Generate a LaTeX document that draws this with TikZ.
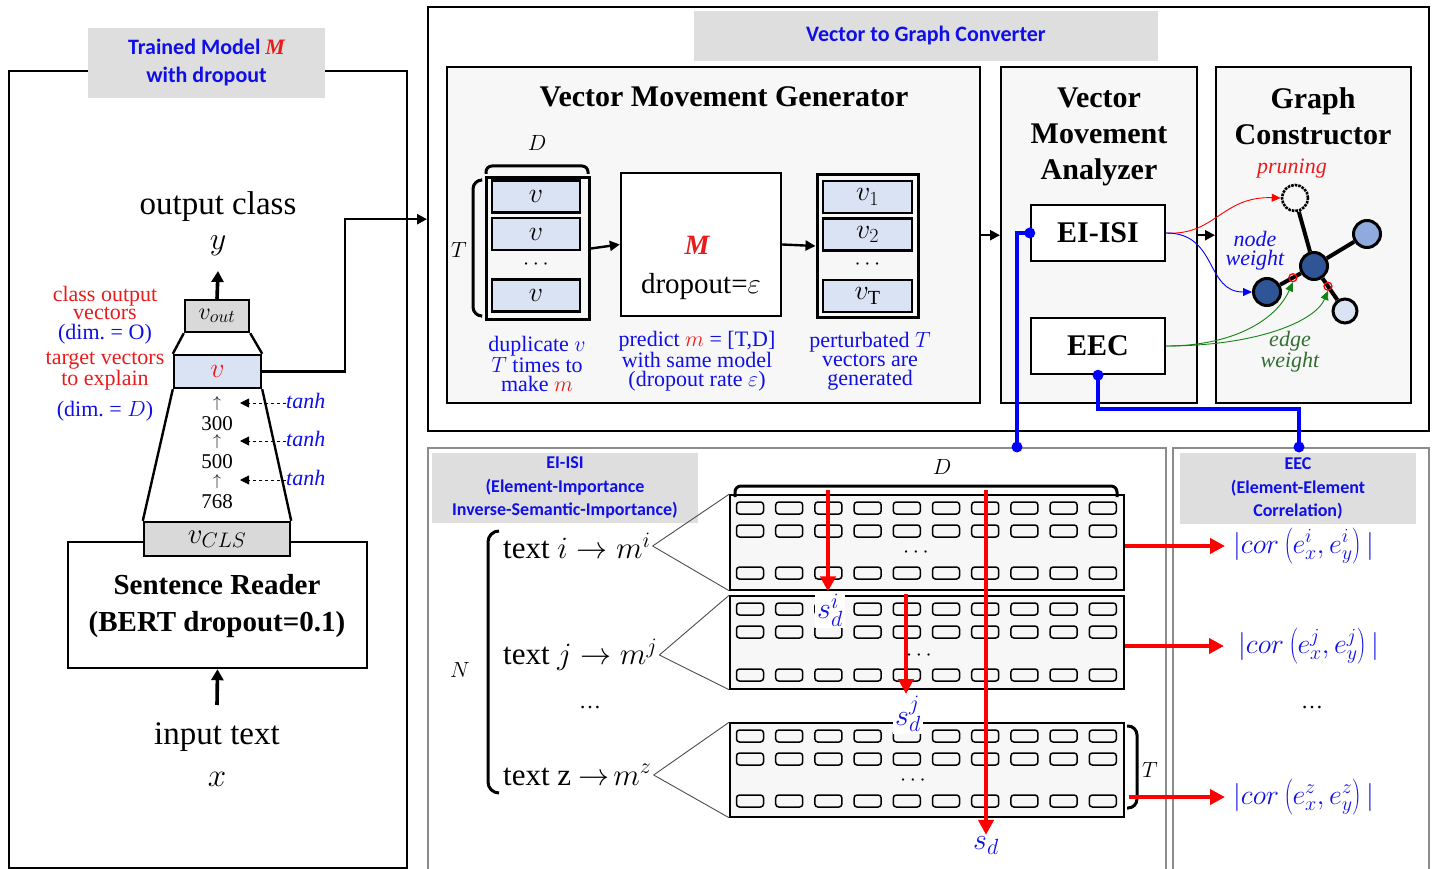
\RequirePackage{fix-cm}
\documentclass[tikz,border=0pt]{standalone}
\usepackage{fontspec}
\setmainfont{Liberation Serif}
\newfontfamily\calib{Carlito}
\usetikzlibrary{arrows.meta,calc}
\DeclareMathSizes{16}{16}{12}{9}
\DeclareMathSizes{22}{22}{16}{12}
\DeclareMathSizes{24}{24}{18}{13}
\DeclareMathSizes{28}{28}{20}{15}
\DeclareMathSizes{29}{29}{21}{15}
\DeclareMathSizes{30}{30}{22}{16}
\DeclareMathSizes{31}{31}{22}{16}
\DeclareMathSizes{32}{32}{23}{17}
\DeclareMathSizes{33}{33}{24}{17}
\definecolor{tblue}{RGB}{15,15,230}
\definecolor{tred}{RGB}{232,28,28}
\definecolor{lblue}{RGB}{218,227,243}
\definecolor{lgray}{RGB}{222,222,222}
\definecolor{pgray}{RGB}{247,247,247}
\definecolor{bgray}{RGB}{217,217,217}
\definecolor{frame}{RGB}{140,140,140}
\definecolor{ndark}{RGB}{47,85,151}
\definecolor{nmid}{RGB}{143,170,220}
\definecolor{nlight}{RGB}{218,227,243}
\definecolor{egreen}{RGB}{20,130,20}
\definecolor{tgreen}{RGB}{50,110,50}
\newcommand{\fsz}[2]{\fontsize{#1}{#2}\selectfont}
\begin{document}
\begin{tikzpicture}[x=1pt,y=-1pt,
 every node/.style={inner sep=0pt},
 box/.style={draw, line width=2.4pt},
 lbl/.style={fill=lgray, text=tblue, align=center},
 gframe/.style={draw=frame, line width=2.2pt},
 cell/.style={draw, line width=2.6pt, fill=lblue, minimum width=88, minimum height=32, font=\fsz{28}{28}},
 arr/.style={line width=2.4pt, -{Triangle[length=10pt,width=10pt]}},
 thickarr/.style={line width=3.6pt, -{Triangle[length=11pt,width=12pt]}},
 redarr/.style={draw=red, line width=4.5pt, -{Triangle[length=15pt,width=15pt]}},
 thinarr/.style={line width=0.9pt, -{Triangle[length=9pt,width=8pt]}},
 capt/.style={text=tblue, align=center, font=\fsz{22}{19}},
 gnode/.style={circle, draw, line width=3pt, minimum size=27},
 mat/.style={draw, fill=pgray, line width=1.6pt, minimum width=394},
 brk/.style={line width=3pt, rounded corners=7pt},
 ttl/.style={font=\bfseries\fsz{30}{36}, align=center},
 sdl/.style={fill=white, inner sep=2pt, text=tblue, font=\fsz{30}{30}},
 corl/.style={text=tblue, font=\fsz{28}{28}, anchor=west}
]
\useasboundingbox (0,0) rectangle (1438,869);

%% ================= LEFT PANEL =================
\node[box, minimum width=398, minimum height=797, anchor=north west] (left) at (8,70) {};
\node[lbl, minimum width=237, minimum height=70, font=\calib\bfseries\fsz{22}{28}] (tmlbl) at (206.5,63)
  {Trained Model {\rmfamily\bfseries\itshape\color{tred}M}\\with dropout};

\node[font=\fsz{33}{33}] (outc) at (218,207) {output class};
\node[font=\fsz{32}{32}] (y) at (218,246) {$y$};
\coordinate (ytip) at (218,271);

\node[box, fill=lblue, minimum width=87, minimum height=33, font=\fsz{28}{28}] (vbox) at (217.5,371.5) {\color{tred}$v$};
\node[box, fill=bgray, minimum width=64, minimum height=32, font=\fsz{24}{24}] (vout) at (217,316) {$v_{out}$};
\draw[thickarr] (vout.north) -- (ytip);

\node[box, minimum width=299, minimum height=126] (sr) at (217.5,605) {};
\node[box, fill=bgray, minimum width=146, minimum height=34, font=\fsz{29}{29}] (vcls) at (217,539) {$v_{CLS}$};
\draw[line width=2.4pt] (vout.south west) -- (vbox.north west);
\draw[line width=2.4pt] (vout.south east) -- (vbox.north east);
\draw[line width=2.4pt] (vbox.south west) -- (vcls.north west);
\draw[line width=2.4pt] (vbox.south east) -- (vcls.north east);
\node[ttl, font=\bfseries\fsz{29}{37}] (srt) at (217,606) {Sentence Reader\\(BERT dropout=0.1)};

\node[font=\fsz{33}{42}, align=center] (intext) at (217,755) {input text\\$x$};
\coordinate (inbase) at (217,705);
\draw[thickarr] (inbase) -- (sr.south);

\node[text=tred, align=center, font=\fsz{22}{18}] (lab1) at (105,303) {class output\\vectors};
\node[text=tblue, font=\fsz{22}{22}] (lab2) at (105,334) {(dim.\ = O)};
\node[text=tred, align=center, font=\fsz{22}{18}] (lab3) at (105,371) {target vectors\\to explain};
\node[text=tblue, font=\fsz{22}{22}] (lab4) at (105,411) {(dim.\ = $D$)};

\foreach \yy/\tt in {424/300, 462/500, 502/768}
  \node[font=\fsz{21}{21}] at (217,\yy) {\tt};
\foreach \yy in {403, 441, 481}
  \node[font=\fsz{16}{16}] at (217,\yy) {$\uparrow$};
\foreach \yy/\nm in {403/ta, 441/tb, 480/tc}{
  \node[text=tblue, font=\itshape\fsz{22}{22}, anchor=west] (\nm) at (286,\yy-2) {tanh};
  \coordinate (\nm h) at (240,\yy);
  \draw[dashed, line width=0.9pt, -{Triangle[length=9pt,width=9pt]}] (\nm.west |- \nm h) -- (\nm h);
}

%% ================= VECTOR TO GRAPH CONVERTER =================
\node[box, minimum width=1001, minimum height=424, anchor=north west] (v2g) at (427,6) {};
\node[lbl, minimum width=464, minimum height=50, font=\calib\bfseries\fsz{22}{22}] (v2gt) at (926,36) {Vector to Graph Converter};
\draw[line width=2.4pt, -{Triangle[length=10pt,width=10pt]}] (vbox.east) -- ++(82.5,0) |- (v2g.west);

% Vector Movement Generator
\node[box, fill=pgray, minimum width=533, minimum height=336, anchor=north west] (vmg) at (446,66) {};
\node[ttl] (vmgt) at (724,97) {Vector Movement Generator};

\node[font=\fsz{22}{22}] (dl) at (537,143) {$D$};
\draw[brk, rounded corners=6pt] (486,174) -- (486,166) -- (588,166) -- (588,174);
\node[box, line width=3pt, minimum width=103, minimum height=142, anchor=north west] (lstack) at (485,176) {};
\node[cell] (lv1) at (536,196.5) {$v$};
\node[cell] (lv2) at (536,234) {$v$};
\node[font=\fsz{22}{22}] (ld) at (536,265) {$\cdots$};
\node[cell] (lv3) at (536,295.5) {$v$};
\draw[brk, rounded corners=9pt] (481,180) -- (473,180) -- (473,316) -- (481,316);
\node[font=\fsz{22}{22}] (tl) at (459,250) {$T$};

\node[box, fill=white, minimum width=160, minimum height=143] (mbox) at (701,244.5) {};
\node[text=tred, font=\bfseries\itshape\fsz{28}{28}] (mM) at (697,245) {M};
\node[font=\fsz{29}{29}] (mdrop) at (701,287) {dropout=$\varepsilon$};

\node[box, line width=3pt, minimum width=101, minimum height=142] (rstack) at (867.5,246) {};
\node[cell, minimum width=89] (rv1) at (867.5,197) {$v_1$};
\node[cell, minimum width=89] (rv2) at (867.5,234.5) {$v_2$};
\node[font=\fsz{22}{22}] (rd) at (867.5,265) {$\cdots$};
\node[cell, minimum width=89] (rv3) at (867.5,296) {$v_{\mathrm{T}}$};

\draw[arr] (lstack.east) -- (mbox.west);
\draw[arr] (mbox.east) -- (rstack.west);

\node[capt] (c1) at (537,364) {duplicate $v$\\$T$ times to\\make {\color{tred}$m$}};
\node[capt] (c2) at (697,361) {predict {\color{tred}$m$} = [T,D]\\with same model\\(dropout rate $\varepsilon$)};
\node[capt] (c3) at (870,361) {perturbated $T$\\vectors are\\generated};

% Vector Movement Analyzer
\node[box, fill=pgray, minimum width=196, minimum height=336, anchor=north west] (vma) at (1000,66) {};
\node[ttl] (vmat) at (1099,137) {Vector\\Movement\\Analyzer};
\node[box, fill=white, minimum width=134, minimum height=56, font=\bfseries\fsz{30}{30}] (eiisi) at (1098,233) {EI-ISI};
\node[box, fill=white, minimum width=134, minimum height=56, font=\bfseries\fsz{30}{30}] (eec) at (1098,346) {EEC};
\draw[arr] (vmg.east) -- (vma.west);

% Graph Constructor
\node[box, fill=pgray, minimum width=195, minimum height=336, anchor=north west] (gc) at (1215,66) {};
\node[ttl] (gct) at (1313,116) {Graph\\Constructor};
\draw[arr] (vma.east) -- (gc.west);
\node[text=tred, font=\itshape\fsz{22}{22}] (prun) at (1292,169) {pruning};

\node[circle, draw, densely dotted, line width=2.6pt, minimum size=26] (gp) at (1295,198) {};
\node[gnode, fill=ndark] (g0) at (1314,266) {};
\node[gnode, fill=ndark] (gl) at (1267,292) {};
\node[gnode, fill=nmid] (gur) at (1367,234) {};
\node[gnode, fill=nlight, minimum size=24] (glr) at (1345,311) {};
\draw[line width=4pt] (gp) -- (g0);
\draw[line width=4pt] (g0) -- (gl);
\draw[line width=4pt] (g0) -- (gur);
\draw[line width=4pt] (g0) -- (glr);
\node[circle, draw=red, line width=1.3pt, minimum size=8] (ew1) at ($(gl)!0.55!(g0)$) {};
\node[circle, draw=red, line width=1.3pt, minimum size=8] (ew2) at ($(g0)!0.45!(glr)$) {};

\draw[thinarr, red] (eiisi.east) .. controls (1215,236) and (1222,196) .. (gp.west);
\draw[thinarr, blue] (eiisi.east) .. controls (1218,233) and (1205,292) .. (gl.west);
\draw[thinarr, egreen] (eec.east) .. controls (1230,346) and (1275,322) .. (ew1.south);
\draw[thinarr, egreen] (eec.east) .. controls (1255,346) and (1315,322) .. (ew2.south);
\node[text=tblue, font=\itshape\fsz{22}{19}, align=center] (nw) at (1255,251) {node\\weight};
\node[text=tgreen, font=\itshape\fsz{22}{19}, align=center] (ewl) at (1290,352) {edge\\weight};

%% ================= BOTTOM PANELS =================
\node[gframe, minimum width=738, minimum height=430, anchor=north west] (bm) at (427,447) {};
\node[gframe, minimum width=256, minimum height=430, anchor=north west] (br) at (1172,447) {};

\coordinate (eidot) at (1017,447);
\coordinate (eecdot) at (1299,447);
\draw[blue, line width=4pt] (eiisi.west) -| (eidot);
\draw[blue, line width=4pt] (eec.south) -- ++(0,34) -| (eecdot);
\fill[blue] (eiisi.west) circle (5.5);
\fill[blue] (eidot) circle (5.5);
\fill[blue] (eec.south) circle (5.5);
\fill[blue] (eecdot) circle (5.5);

\node[lbl, minimum width=266, minimum height=70, font=\calib\bfseries\fsz{18}{23.5}] (eilbl) at (565,488)
  {EI-ISI\\(Element-Importance\\Inverse-Semantic-Importance)};
\node[lbl, minimum width=236, minimum height=71, font=\calib\bfseries\fsz{18}{23.5}] (eeclbl) at (1298,488.5)
  {EEC\\(Element-Element\\Correlation)};

\draw[brk, rounded corners=11pt] (499,531) -- (488,531) -- (488,793) -- (499,793);
\node[font=\fsz{22}{22}] (nl) at (460,670) {$N$};

\node[font=\fsz{31}{31}, anchor=west] (ti) at (503,546) {text $i \rightarrow m^{i}$};
\node[font=\fsz{31}{31}, anchor=west] (tj) at (503,655) {text $j \rightarrow m^{j}$};
\node[font=\fsz{31}{31}, anchor=west] (tz) at (503,775) {text z $\rightarrow\! m^{z}$};
\node[font=\fsz{22}{22}] (tdots) at (590,708) {\dots};

\node[mat, minimum height=95] (mat1) at (927,542.5) {};
\node[mat, minimum height=93] (mat2) at (927,642.5) {};
\node[mat, minimum height=94] (mat3) at (927,770) {};

\foreach \t/\m in {ti/mat1, tj/mat2, tz/mat3}{
  \draw[line width=0.9pt, black!70] ([xshift=2pt]\t.east) -- (\m.north west);
  \draw[line width=0.9pt, black!70] ([xshift=2pt]\t.east) -- (\m.south west);
}

\foreach \r in {508,531,573,609,632,675,736,759,801}
  \foreach \k in {0,...,9}
    \draw[rounded corners=3pt, line width=1.5pt] ({750+39.2*\k-13.5},{\r-6}) rectangle ++(27,12);
\node[font=\fsz{22}{22}] (d1) at (916,553) {$\cdots$};
\node[font=\fsz{22}{22}] (d2) at (919,656) {$\cdots$};
\node[font=\fsz{22}{22}] (d3) at (913,781) {$\cdots$};

\draw[brk, rounded corners=6pt] (735,497) -- (735,486) -- (1117,486) -- (1117,497);
\node[font=\fsz{22}{22}] (dd) at (942,467) {$D$};
\draw[brk, rounded corners=9pt] (1127,726) -- (1137,726) -- (1137,808) -- (1127,808);
\node[font=\fsz{22}{22}] (tt) at (1150,770) {$T$};

\node[sdl] (sdi) at (830,610) {$s_d^{i}$};
\node[sdl] (sdj) at (908,714) {$s_d^{j}$};
\node[sdl, fill=none] (sdall) at (986,846) {$s_d$};
\coordinate (sa) at (828,490);
\coordinate (sb) at (906,594);
\coordinate (sc) at (986,490);
\draw[redarr] (sa) -- (sa |- sdi.north);
\draw[redarr] (sb) -- (sb |- sdj.north);
\draw[redarr] (sc) -- (sc |- sdall.north);

\node[corl] (cori) at (1233,546) {$|cor\left(e_x^{i},e_y^{i}\right)|$};
\node[corl] (corj) at (1238,646) {$|cor\left(e_x^{j},e_y^{j}\right)|$};
\node[font=\fsz{22}{22}] (cdots) at (1312,708) {\dots};
\node[corl] (corz) at (1233,797) {$|cor\left(e_x^{z},e_y^{z}\right)|$};
\draw[redarr] (mat1.east |- cori.west) -- ([xshift=-8pt]cori.west);
\draw[redarr] (mat2.east |- corj.west) -- ([xshift=-14pt]corj.west);
\draw[redarr] ([xshift=4pt]mat3.east |- corz.west) -- ([xshift=-8pt]corz.west);
\end{tikzpicture}
\end{document}
